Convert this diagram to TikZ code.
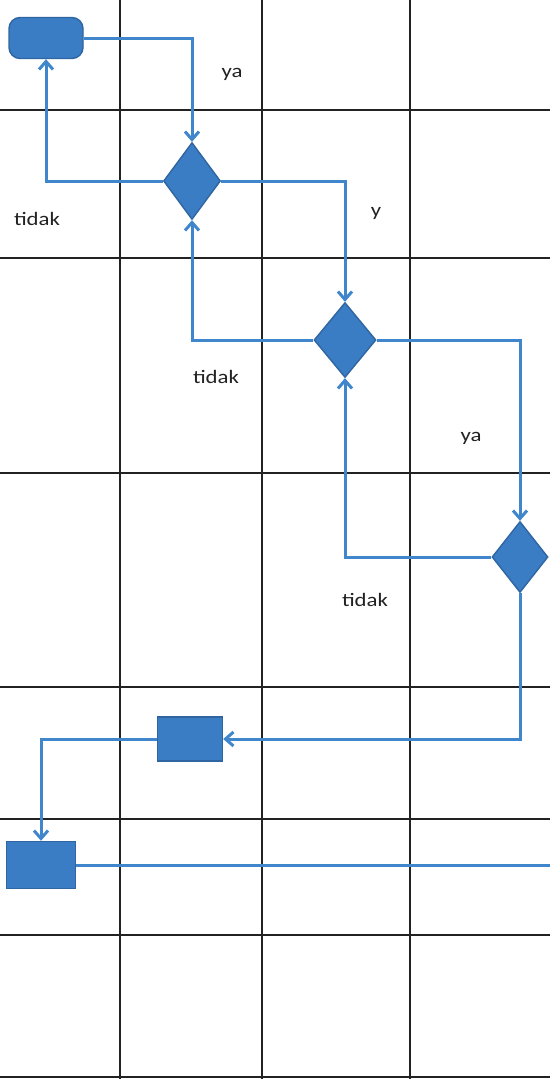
\documentclass[tikz,border=0pt]{standalone}
\usepackage{fontspec}
\setmainfont{Carlito}
\newfontfamily\lblfont{Carlito}[FakeStretch=1.2]
\usetikzlibrary{shapes.geometric,arrows.meta}
\definecolor{flow}{HTML}{3F86CC}
\definecolor{shapefill}{HTML}{3A7DC4}
\definecolor{shapeedge}{HTML}{2F65A0}
\definecolor{gridc}{HTML}{222222}
\begin{document}
\begin{tikzpicture}[x=1pt,y=-1pt,
  gridline/.style={line width=1.5pt, draw=gridc},
  conn/.style={draw=flow, line width=3pt, -{Straight Barb[length=8pt,width=14pt]}},
  plain/.style={draw=flow, line width=3pt},
  dec/.style={diamond, fill=shapefill, draw=shapeedge, line width=1.4pt, inner sep=0pt, minimum width=#1},
  box/.style={rectangle, fill=shapefill, draw=shapeedge, line width=1.4pt, inner sep=0pt},
  term/.style={rectangle, rounded corners=11pt, fill=shapefill, draw=shapeedge, line width=1.4pt, inner sep=0pt},
  lbl/.style={text=gridc, font=\lblfont\fontsize{19}{22}\selectfont, inner sep=0pt}
]
\useasboundingbox (0,0) rectangle (550,1079);
\fill[white] (0,0) rectangle (550,1079);
% grid
\foreach \x in {120,262,410} \draw[gridline] (\x,0) -- (\x,1079);
\foreach \y in {110,258,473,687,819,935,1077} \draw[gridline] (0,\y) -- (550,\y);
% shapes
\node[term, minimum width=74pt, minimum height=41pt] (s) at (46,38) {};
\node[dec=57pt, minimum height=77pt] (d1) at (192,181) {};
\node[dec=62pt, minimum height=75pt] (d2) at (345,340) {};
\node[dec=56pt, minimum height=71pt] (d3) at (520,557) {};
\node[box, minimum width=65pt, minimum height=44pt] (r1) at (190,739) {};
\node[box, minimum width=69pt, minimum height=47pt] (r2) at (41,865) {};
\coordinate (e) at (550,865);
% connectors
\draw[conn] (s.east) -| (d1.north);
\draw[conn] (d1.west) -| (s.south);
\draw[conn] (d1.east) -| (d2.north);
\draw[conn] (d2.west) -| (d1.south);
\draw[conn] (d2.east) -| (d3.north);
\draw[conn] (d3.west) -| (d2.south);
\draw[conn] (d3.south) |- (r1.east);
\draw[conn] (r1.west) -| (r2.north);
\draw[plain] (r2.east) -- (e);
% labels
\node[lbl] (l1) at (232,74) {ya};
\node[lbl] (l2) at (37,219) {tidak};
\node[lbl] (l3) at (376,213) {y};
\node[lbl] (l4) at (216,377) {tidak};
\node[lbl] (l5) at (471,438) {ya};
\node[lbl] (l6) at (365,600) {tidak};
\end{tikzpicture}
\end{document}
